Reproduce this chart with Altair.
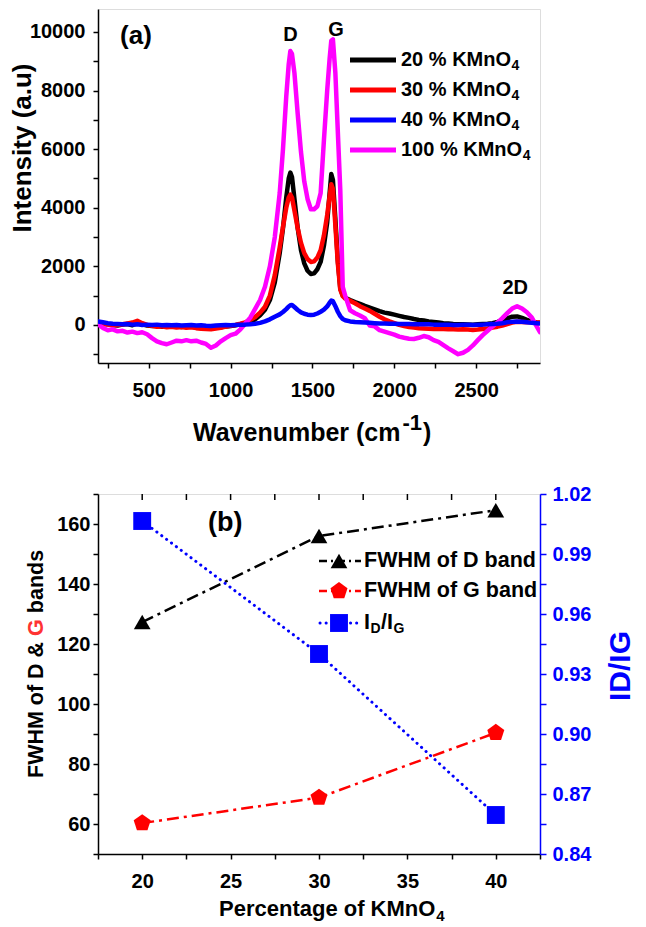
import altair as alt
import pandas as pd

FONT = "Liberation Sans"

# ---------------- panel (a): Raman spectra ----------------
wavenumber = [190, 220, 250, 280, 310, 340, 370, 400, 430, 460,
              490, 520, 550, 580, 610, 640, 670, 700, 730, 760,
              790, 820, 850, 880, 910, 940, 970, 1000, 1030, 1060,
              1090, 1120, 1150, 1180, 1210, 1240, 1270, 1300, 1320, 1340,
              1355, 1365, 1375, 1390, 1410, 1430, 1450, 1470, 1490, 1510,
              1530, 1550, 1570, 1590, 1605, 1615, 1625, 1640, 1655, 1670,
              1685, 1700, 1730, 1760, 1790, 1820, 1850, 1880, 1910, 1940,
              1970, 2000, 2030, 2060, 2090, 2120, 2150, 2180, 2210, 2240,
              2270, 2300, 2330, 2360, 2390, 2420, 2450, 2480, 2510, 2540,
              2570, 2600, 2630, 2660, 2690, 2720, 2750, 2780, 2810, 2840,
              2870, 2890]

int_20 = [90, 40, 20, 0, -20, 10, 30, -10, 60, 20,
          -20, -40, -30, -60, -40, -50, -30, -70, -40, -60,
          -80, -60, -90, -100, -70, -80, -50, -40, -10, 20,
          50, 110, 190, 330, 520, 850, 1450, 2450, 3300, 4350,
          5000, 5200, 5050, 4300, 3300, 2550, 2100, 1850, 1740, 1760,
          1900, 2150, 2700, 3500, 4500, 5150, 4950, 3600, 2200, 1250,
          1000, 930, 850, 780, 720, 650, 590, 530, 470, 420,
          390, 350, 310, 270, 240, 200, 170, 150, 120, 100,
          80, 60, 45, 30, 25, 20, 15, 10, 20, 30,
          40, 60, 100, 150, 220, 280, 290, 240, 170, 110,
          80, 70]

int_30 = [60, 30, 10, -10, 0, 20, 50, 80, 140, 60,
          0, -30, -60, -50, -80, -60, -90, -70, -100, -80,
          -110, -130, -140, -150, -120, -100, -60, -30, 0, 40,
          90, 170, 270, 420, 620, 1000, 1700, 2650, 3350, 4000,
          4350, 4450, 4350, 3900, 3300, 2800, 2450, 2250, 2150, 2170,
          2300, 2550, 3050, 3750, 4400, 4800, 4650, 3400, 2100, 1200,
          980, 900, 820, 740, 640, 560, 480, 380, 280, 190,
          120, 60, 0, -40, -70, -90, -110, -120, -130, -140,
          -140, -140, -150, -150, -160, -150, -160, -170, -160, -140,
          -120, -90, -60, -20, 30, 80, 110, 100, 90, 90,
          80, 80]

int_40 = [120, 90, 60, 40, 30, 20, 30, 10, 20, 0,
          10, 0, 10, -10, 0, -10, 0, -20, -10, 0,
          -20, -10, -30, -40, -20, -10, 0, -10, 0, 10,
          10, 20, 40, 70, 120, 190, 280, 360, 440, 540,
          630, 670, 680, 610, 510, 430, 380, 350, 340, 350,
          390, 450, 520, 630, 760, 830, 810, 640, 450, 300,
          200, 160, 120, 100, 90, 80, 70, 60, 50, 50,
          40, 40, 30, 30, 30, 20, 20, 20, 20, 10,
          10, 10, 10, 0, 0, 10, 10, 0, 10, 10,
          20, 30, 40, 60, 90, 110, 120, 110, 90, 70,
          60, 50]

int_100 = [20, -100, -180, -150, -220, -200, -260, -230, -280, -250,
           -320, -450, -560, -620, -660, -600, -540, -560, -520, -560,
           -540, -600, -650, -780, -700, -560, -450, -350, -300, -150,
           50, 250, 550, 850, 1300, 2000, 3000, 4500, 6000, 7800,
           8900, 9350, 9250, 8600, 7200, 5900, 4900, 4300, 3950, 3950,
           4050, 4500, 6300, 8000, 9100, 9700, 9750, 8600, 6600, 4600,
           1300, 1000, 500, 400, 320, 230, -20, -50, -180, -230,
           -280, -330, -400, -440, -470, -480, -440, -380, -420, -520,
           -580, -690, -800, -900, -1000, -950, -850, -700, -520, -350,
           -200, -50, 80, 230, 400, 560, 640, 560, 430, 250,
           -50, -250]

series_values = [int_20, int_30, int_100, int_40]          # drawing order
series_colors = ["#000000", "#ff0000", "#ff00ff", "#0000ff"]

legend_a_labels = ["20 % KMnO", "30 % KMnO", "40 % KMnO", "100 % KMnO"]
legend_a_colors = ["#000000", "#ff0000", "#0000ff", "#ff00ff"]

peak_labels = ["D", "G", "2D"]
peak_x = [1365, 1644, 2739]
peak_y = [9900, 10070, 1250]

# ---------------- panel (b): FWHM and ID/IG ----------------
kmno4_pct = [20, 30, 40]
fwhm_d = [127.3, 156.0, 164.6]
fwhm_g = [60.3, 68.8, 90.4]
id_ig = [1.0065, 0.940, 0.8595]

# Arial Bold advance widths (per 1000 em) for text layout
W_ADV = {' ': 278, '%': 889, '&': 722, '(': 333, ')': 333, '-': 333, '.': 278, '/': 278,
         'D': 722, 'F': 611, 'G': 778, 'H': 722, 'I': 278, 'K': 722, 'M': 833, 'O': 778,
         'P': 667, 'W': 944, 'a': 556, 'b': 611, 'c': 556, 'd': 611, 'e': 556, 'f': 333,
         'g': 611, 'm': 889, 'n': 611, 'o': 611, 'r': 389, 's': 556, 't': 333, 'u': 611,
         'v': 556, 'y': 556}


def tw(s, size):
    return sum(W_ADV.get(c, 556) for c in s) * size / 1000.0


dummy = pd.DataFrame({"k": [0]})


def vtext(txt, x, y, size, color="black", angle=0, align="left", baseline="middle"):
    kw = dict(font=FONT, fontSize=size, fontWeight="bold", color=color,
              align=align, baseline=baseline)
    if angle:
        kw["angle"] = angle
    return alt.Chart(dummy).mark_text(**kw).encode(
        x=alt.value(x), y=alt.value(y), text=alt.value(txt))


def vrule(x1, x2, y, color, width, dash=None):
    kw = dict(color=color, strokeWidth=width)
    if dash:
        kw["strokeDash"] = dash
    return alt.Chart(dummy).mark_rule(**kw).encode(
        x=alt.value(x1), x2=alt.value(x2), y=alt.value(y))


# ---------------- top chart ----------------
X_A = alt.Scale(domain=[190, 2890], nice=False, zero=False)
Y_A = alt.Scale(domain=[-1300, 10785], nice=False, zero=False)

common_axis = dict(labelFont=FONT, labelFontSize=20, labelFontWeight="bold",
                   labelColor="black", tickColor="black", tickSize=5, tickWidth=1.5,
                   domainColor="black", domainWidth=1.5, grid=False, title="",
                   labelOverlap=False, labelFlush=False)

x_axis_a = alt.Axis(values=list(range(250, 2890, 250)),
                    labelExpr="datum.value % 500 == 0 ? '' + datum.value : ''",
                    labelPadding=12, **common_axis)
y_axis_a = alt.Axis(values=list(range(-1000, 10001, 1000)),
                    labelExpr="datum.value % 2000 == 0 ? '' + datum.value : ''",
                    labelPadding=8, **common_axis)

top_layers = []
for vals, col in zip(series_values, series_colors):
    df = pd.DataFrame({"w": wavenumber, "I": vals})
    top_layers.append(
        alt.Chart(df).mark_line(color=col, strokeWidth=4.5, strokeJoin="round",
                                strokeCap="round", clip=True).encode(
            x=alt.X("w:Q", scale=X_A, axis=x_axis_a),
            y=alt.Y("I:Q", scale=Y_A, axis=y_axis_a)))

peaks_df = pd.DataFrame({"w": peak_x, "I": peak_y, "t": peak_labels})
top_layers.append(
    alt.Chart(peaks_df).mark_text(font=FONT, fontSize=20, fontWeight="bold",
                                  color="black", baseline="middle").encode(
        x=alt.X("w:Q", scale=X_A, axis=x_axis_a),
        y=alt.Y("I:Q", scale=Y_A, axis=y_axis_a), text="t:N"))
panel_a_df = pd.DataFrame({"w": [422], "I": [9863], "t": ["(a)"]})
top_layers.append(
    alt.Chart(panel_a_df).mark_text(font=FONT, fontSize=26, fontWeight="bold",
                                    color="black", baseline="middle").encode(
        x=alt.X("w:Q", scale=X_A, axis=x_axis_a),
        y=alt.Y("I:Q", scale=Y_A, axis=y_axis_a), text="t:N"))

# legend (a)
leg_rows_a = [51, 81, 111, 141]
for lab, col, ry in zip(legend_a_labels, legend_a_colors, leg_rows_a):
    top_layers.append(vrule(252, 298, ry, col, 5))
    top_layers.append(vtext(lab, 303, ry, 20))
    top_layers.append(vtext("4", 303 + tw(lab, 20) + 0.5, ry + 6, 14))

# axis titles (a)
top_layers.append(vtext("Intensity (a.u)", -75, 139, 26, angle=270, align="center"))
xa0 = 95
top_layers.append(vtext("Wavenumber (cm", xa0, 432, 25, baseline="alphabetic"))
xs = xa0 + tw("Wavenumber (cm", 25) + 1
top_layers.append(vtext("-1", xs, 421, 22, baseline="alphabetic"))
xc = xs + tw("-1", 22) + 1
top_layers.append(vtext(")", xc, 432, 25, baseline="alphabetic"))
# invisible anchor fixing the left edge of the page content
top_layers.append(alt.Chart(dummy).mark_rule(color="white", strokeWidth=1).encode(
    x=alt.value(-89), y=alt.value(200), y2=alt.value(201)))

top = alt.layer(*top_layers).properties(width=442, height=354)

# ---------------- bottom chart ----------------
X_B = alt.Scale(domain=[17.5, 42.5], nice=False, zero=False)
YL = alt.Scale(domain=[50, 170], nice=False, zero=False)
YR = alt.Scale(domain=[0.84, 1.02], nice=False, zero=False)

x_axis_b = alt.Axis(values=[17.5 + 2.5 * i for i in range(11)],
                    labelExpr="datum.value % 5 == 0 ? '' + datum.value : ''",
                    labelPadding=12, **common_axis)
yl_axis = alt.Axis(values=list(range(50, 171, 10)),
                   labelExpr="datum.value % 20 == 0 ? '' + datum.value : ''",
                   labelPadding=3, **common_axis)
yr_common = dict(common_axis)
yr_common.update(labelColor="#0000ff", tickColor="#0000ff", domainColor="#0000ff", tickSize=6)
yr_axis = alt.Axis(orient="right", values=[round(0.84 + 0.015 * i, 3) for i in range(13)],
                   labelExpr="round(datum.value*1000) % 30 == 0 ? format(datum.value, '.2f') : ''",
                   labelPadding=6, **yr_common)

bdf = pd.DataFrame({"p": kmno4_pct, "d": fwhm_d, "g": fwhm_g, "r": id_ig})
PENT = "M0,-1L0.951,-0.309L0.588,0.809L-0.588,0.809L-0.951,-0.309Z"
DASHDOT = [12, 5, 3, 5]

bx = alt.X("p:Q", scale=X_B, axis=x_axis_b)
left_layers = [
    alt.Chart(bdf).mark_line(color="black", strokeWidth=2.5, strokeDash=DASHDOT).encode(
        x=bx, y=alt.Y("d:Q", scale=YL, axis=yl_axis)),
    alt.Chart(bdf).mark_point(shape="triangle-up", filled=True, size=280, color="black",
                              opacity=1).encode(x=bx, y=alt.Y("d:Q", scale=YL, axis=yl_axis)),
    alt.Chart(bdf).mark_line(color="#ff0000", strokeWidth=2.5, strokeDash=DASHDOT).encode(
        x=bx, y=alt.Y("g:Q", scale=YL, axis=yl_axis)),
    alt.Chart(bdf).mark_point(shape=PENT, filled=True, size=320, color="#ff0000",
                              opacity=1).encode(x=bx, y=alt.Y("g:Q", scale=YL, axis=yl_axis)),
]
# inward ticks on the top frame
top_ticks = pd.DataFrame({"t": [20 + 2.5 * i for i in range(9)]})
left_layers.append(alt.Chart(top_ticks).mark_rule(color="black", strokeWidth=1.5).encode(
    x=alt.X("t:Q", scale=X_B, axis=x_axis_b), y=alt.value(0), y2=alt.value(6)))
# panel label
pb_df = pd.DataFrame({"p": [24.7], "v": [160.3], "t": ["(b)"]})
left_layers.append(alt.Chart(pb_df).mark_text(font=FONT, fontSize=27, fontWeight="bold",
                                              color="black", baseline="middle").encode(
    x=alt.X("p:Q", scale=X_B, axis=x_axis_b), y=alt.Y("v:Q", scale=YL, axis=yl_axis), text="t:N"))

# legend (b)
ly = [67, 97, 129]
left_layers.append(vrule(221, 263, ly[0], "black", 2.5, [8, 4, 2, 4]))
left_layers.append(alt.Chart(dummy).mark_point(shape="triangle-up", filled=True, size=280,
                                               color="black", opacity=1).encode(
    x=alt.value(241), y=alt.value(ly[0])))
left_layers.append(vtext("FWHM of D band", 266, ly[0], 21.5))
left_layers.append(vrule(221, 263, ly[1], "#ff0000", 2.5, [8, 4, 2, 4]))
left_layers.append(alt.Chart(dummy).mark_point(shape=PENT, filled=True, size=320,
                                               color="#ff0000", opacity=1).encode(
    x=alt.value(241), y=alt.value(ly[1])))
left_layers.append(vtext("FWHM of G band", 266, ly[1], 21.5))
left_layers.append(alt.Chart(dummy).mark_rule(color="#0000ff", strokeWidth=3,
                                              strokeDash=[0.1, 6], strokeCap="round").encode(
    x=alt.value(222), x2=alt.value(262), y=alt.value(ly[2])))
left_layers.append(alt.Chart(dummy).mark_point(shape="square", filled=True, size=320,
                                               color="#0000ff", opacity=1).encode(
    x=alt.value(241), y=alt.value(ly[2])))
lx = 266
left_layers.append(vtext("I", lx, ly[2], 21.5))
lx += tw("I", 21.5) + 0.5
left_layers.append(vtext("D", lx, ly[2] + 6, 14))
lx += tw("D", 14) + 0.5
left_layers.append(vtext("/I", lx, ly[2], 21.5))
lx += tw("/I", 21.5) + 0.5
left_layers.append(vtext("G", lx, ly[2] + 6, 14))

# left axis title with red G
f_t = 21.5
y0 = 284
p1 = "FWHM of D &"
left_layers.append(vtext(p1, -61, y0, f_t, angle=270))
y1 = y0 - tw(p1 + " ", f_t)
left_layers.append(vtext("G", -61, y1, f_t, color="#ff3333", angle=270))
y2 = y1 - tw("G ", f_t)
left_layers.append(vtext("bands", -61, y2, f_t, angle=270))
# right axis title
left_layers.append(vtext("ID/IG", 523, 172, 30, color="#0000ff", angle=270, align="center"))
# bottom axis title
xb0 = 121
left_layers.append(vtext("Percentage of KMnO", xb0, 422, 22, baseline="alphabetic"))
left_layers.append(vtext("4", xb0 + tw("Percentage of KMnO", 22) + 1, 427, 15,
                         baseline="alphabetic"))

left = alt.layer(*left_layers)

right = alt.layer(
    alt.Chart(bdf).mark_line(color="#0000ff", strokeWidth=3, strokeDash=[0.1, 6],
                             strokeCap="round").encode(
        x=bx, y=alt.Y("r:Q", scale=YR, axis=yr_axis)),
    alt.Chart(bdf).mark_point(shape="square", filled=True, size=320, color="#0000ff",
                              opacity=1).encode(
        x=bx, y=alt.Y("r:Q", scale=YR, axis=yr_axis)),
)

bottom = alt.layer(left, right).resolve_scale(y="independent").properties(width=442, height=360)

chart = alt.vconcat(top, bottom, spacing=131, bounds="flush").properties(
    padding=0
).configure_view(stroke="black", strokeWidth=1.5).configure(font=FONT)

chart.save("out.html", embed_options={"renderer": "svg", "actions": False})
